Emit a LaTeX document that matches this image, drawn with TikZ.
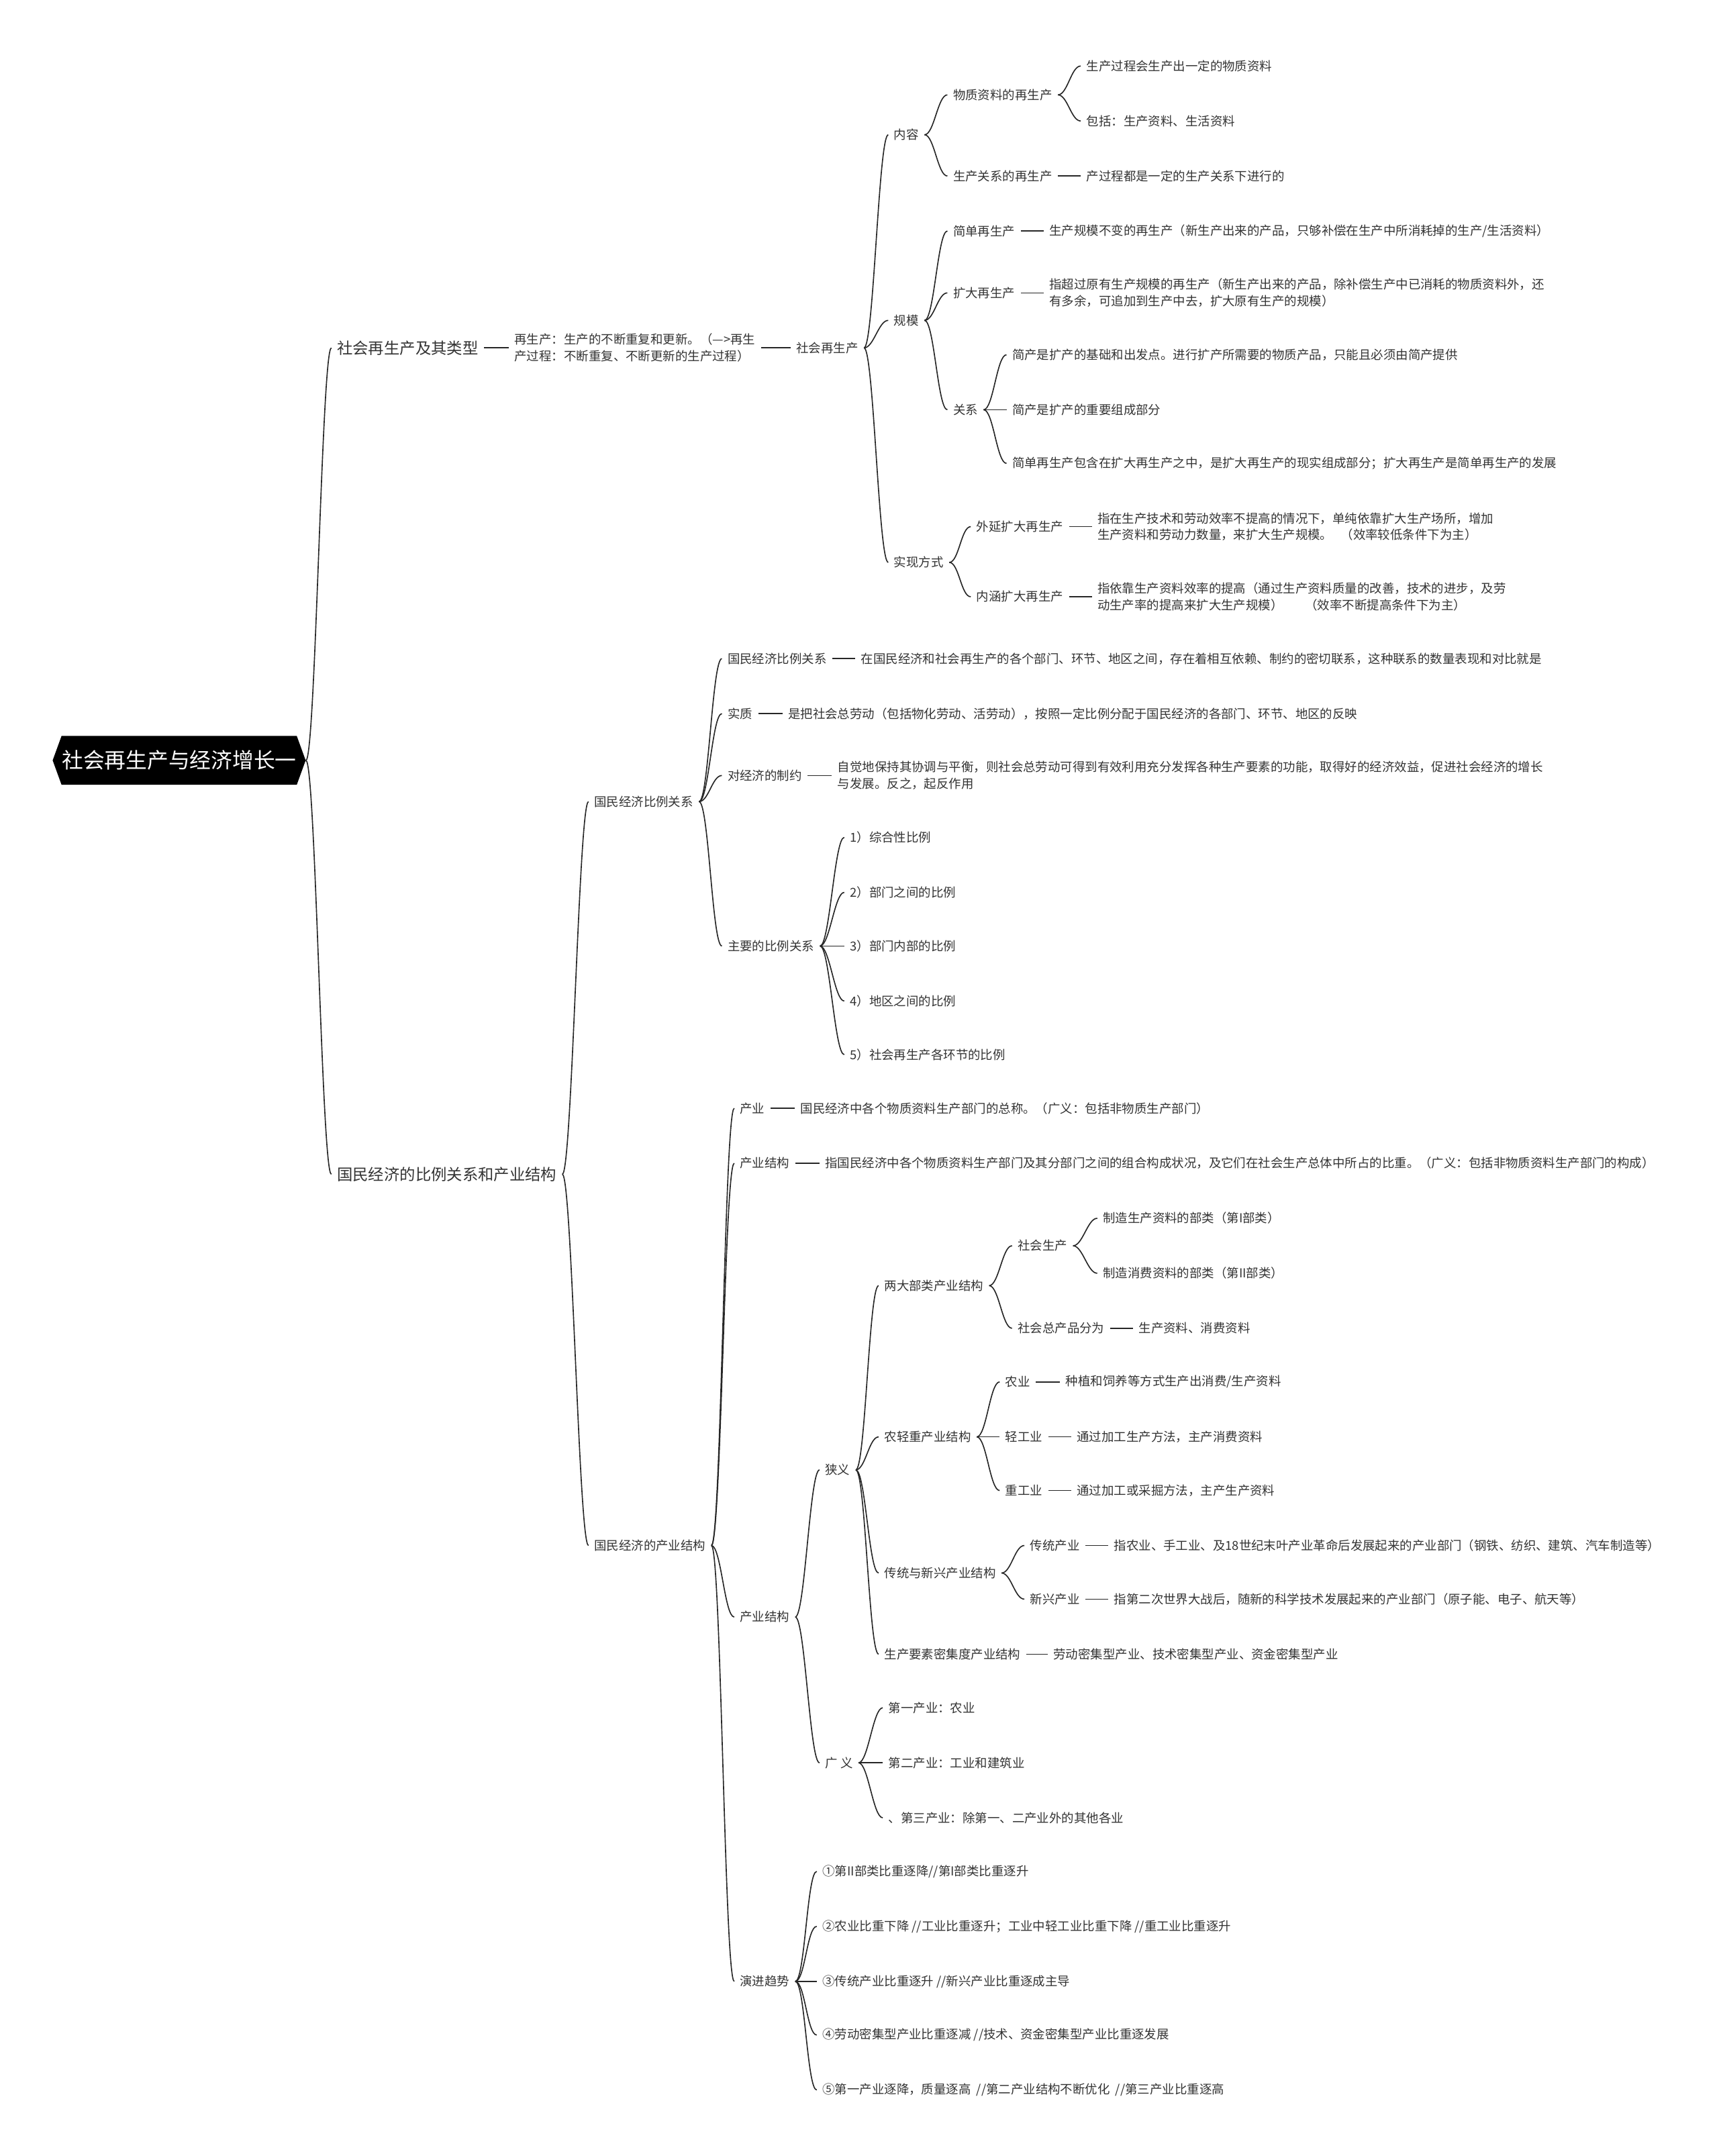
\documentclass[tikz,border=0pt]{standalone}
\usepackage{fontspec}
\setmainfont{Noto Sans CJK SC}
\usetikzlibrary{shapes.symbols}

\begin{document}
\begin{tikzpicture}[x=1pt,y=-1pt,
    txt/.style={anchor=west,inner xsep=4pt,inner ysep=2pt,text=black!80,
      font=\fontsize{9}{12}\selectfont,align=left},
    main/.style={txt,font=\fontsize{11.4}{14}\selectfont},
    conn/.style={draw=black!85,line width=0.8pt}]
\path[use as bounding box] (0,0) rectangle (1250,1568);

% root
\node[signal,signal to=west and east,signal pointer angle=140,fill=black,
  text=white,font=\fontsize{15.5}{18}\selectfont,minimum width=184pt,
  minimum height=35.5pt,inner xsep=0pt] (root) at (130.3,553) {社会再生产与经济增长一};

% first branch
\node[main] (s1) at (241,253) {社会再生产及其类型};
\node[txt] (s1d) at (370,253) {再生产：生产的不断重复和更新。（—>再生\\产过程：不断重复、不断更新的生产过程）};
\node[txt] (srp) at (575,253) {社会再生产};
\node[txt] (nr) at (646,98) {内容};
\node[txt] (wz) at (689,69) {物质资料的再生产};
\node[txt] (wz1) at (786,48) {生产过程会生产出一定的物质资料};
\node[txt] (wz2) at (786,88) {包括：生产资料、生活资料};
\node[txt] (gx) at (689,128) {生产关系的再生产};
\node[txt] (gxd) at (786,128) {产过程都是一定的生产关系下进行的};
\node[txt] (gm) at (646,233) {规模};
\node[txt] (jd) at (689,168) {简单再生产};
\node[txt] (jdd) at (759,168) {生产规模不变的再生产（新生产出来的产品，只够补偿在生产中所消耗掉的生产/生活资料）};
\node[txt] (kd) at (689,213) {扩大再生产};
\node[txt] (kdd) at (759,213) {指超过原有生产规模的再生产（新生产出来的产品，除补偿生产中已消耗的物质资料外，还\\有多余，可追加到生产中去，扩大原有生产的规模）};
\node[txt] (gxi) at (689,298) {关系};
\node[txt] (gx1) at (732,258) {简产是扩产的基础和出发点。进行扩产所需要的物质产品，只能且必须由简产提供};
\node[txt] (gx2) at (732,298) {简产是扩产的重要组成部分};
\node[txt] (gx3) at (732,337) {简单再生产包含在扩大再生产之中，是扩大再生产的现实组成部分；扩大再生产是简单再生产的发展};
\node[txt] (sxfs) at (646,409) {实现方式};
\node[txt] (wy) at (706,383) {外延扩大再生产};
\node[txt] (wyd) at (794,383) {指在生产技术和劳动效率不提高的情况下，单纯依靠扩大生产场所，增加\\生产资料和劳动力数量，来扩大生产规模。\hspace{6pt}（效率较低条件下为主）};
\node[txt] (nh) at (706,434) {内涵扩大再生产};
\node[txt] (nhd) at (794,434) {指依靠生产资料效率的提高（通过生产资料质量的改善，技术的进步，及劳\\动生产率的提高来扩大生产规模）\hspace{16pt}（效率不断提高条件下为主）};

% second branch
\node[main] (s2) at (241,854) {国民经济的比例关系和产业结构};
\node[txt] (bl) at (428,583) {国民经济比例关系};
\node[txt] (bl1) at (525,479) {国民经济比例关系};
\node[txt] (bl1d) at (622,479) {在国民经济和社会再生产的各个部门、环节、地区之间，存在着相互依赖、制约的密切联系，这种联系的数量表现和对比就是};
\node[txt] (sz) at (525,519) {实质};
\node[txt] (szd) at (569,519) {是把社会总劳动（包括物化劳动、活劳动），按照一定比例分配于国民经济的各部门、环节、地区的反映};
\node[txt] (zy) at (525,564) {对经济的制约};
\node[txt] (zyd) at (605,564) {自觉地保持其协调与平衡，则社会总劳动可得到有效利用充分发挥各种生产要素的功能，取得好的经济效益，促进社会经济的增长\\与发展。反之，起反作用};
\node[txt] (zybl) at (525,688) {主要的比例关系};
\node[txt] (p1) at (614,609) {1）综合性比例};
\node[txt] (p2) at (614,649) {2）部门之间的比例};
\node[txt] (p3) at (614,688) {3）部门内部的比例};
\node[txt] (p4) at (614,728) {4）地区之间的比例};
\node[txt] (p5) at (614,767) {5）社会再生产各环节的比例};

\node[txt] (cyjg) at (428,1124) {国民经济的产业结构};
\node[txt] (cy) at (534,806) {产业};
\node[txt] (cyd) at (578,806) {国民经济中各个物质资料生产部门的总称。（广义：包括非物质生产部门）};
\node[txt] (cyjg1) at (534,846) {产业结构};
\node[txt] (cyjg1d) at (596,846) {指国民经济中各个物质资料生产部门及其分部门之间的组合构成状况，及它们在社会生产总体中所占的比重。（广义：包括非物质资料生产部门的构成）};
\node[txt] (cyjg2) at (534,1176) {产业结构};
\node[txt] (xy) at (596,1069) {狭义};
\node[txt] (lb) at (639,935) {两大部类产业结构};
\node[txt] (shsc) at (736,906) {社会生产};
\node[txt] (sc1) at (798,886) {制造生产资料的部类（第I部类）};
\node[txt] (sc2) at (798,926) {制造消费资料的部类（第II部类）};
\node[txt] (zcp) at (736,966) {社会总产品分为};
\node[txt] (zcpd) at (824,966) {生产资料、消费资料};
\node[txt] (nqz) at (639,1045) {农轻重产业结构};
\node[txt] (ny) at (727,1005) {农业};
\node[txt] (nyd) at (771,1005) {种植和饲养等方式生产出消费/生产资料};
\node[txt] (qg) at (727,1045) {轻工业};
\node[txt] (qgd) at (779,1045) {通过加工生产方法，主产消费资料};
\node[txt] (zg) at (727,1084) {重工业};
\node[txt] (zgd) at (779,1084) {通过加工或采掘方法，主产生产资料};
\node[txt] (ctx) at (639,1144) {传统与新兴产业结构};
\node[txt] (ct) at (745,1124) {传统产业};
\node[txt] (ctd) at (806,1124) {指农业、手工业、及18世纪末叶产业革命后发展起来的产业部门（钢铁、纺织、建筑、汽车制造等）};
\node[txt] (xx) at (745,1163) {新兴产业};
\node[txt] (xxd) at (806,1163) {指第二次世界大战后，随新的科学技术发展起来的产业部门（原子能、电子、航天等）};
\node[txt] (ys) at (639,1203) {生产要素密集度产业结构};
\node[txt] (ysd) at (762,1203) {劳动密集型产业、技术密集型产业、资金密集型产业};
\node[txt] (gy) at (596,1282) {广 义};
\node[txt] (d1) at (642,1242) {第一产业：农业};
\node[txt] (d2) at (642,1282) {第二产业：工业和建筑业};
\node[txt] (d3) at (642,1322) {、第三产业：除第一、二产业外的其他各业};
\node[txt] (yj) at (534,1441) {演进趋势};
\node[txt] (t1) at (594,1361) {①第II部类比重逐降//第I部类比重逐升};
\node[txt] (t2) at (594,1401) {②农业比重下降 //工业比重逐升；工业中轻工业比重下降 //重工业比重逐升};
\node[txt] (t3) at (594,1441) {③传统产业比重逐升 //新兴产业比重逐成主导};
\node[txt] (t4) at (594,1480) {④劳动密集型产业比重逐减 //技术、资金密集型产业比重逐发展};
\node[txt] (t5) at (594,1520) {⑤第一产业逐降，质量逐高\ \ //第二产业结构不断优化\ \ //第三产业比重逐高};

% connectors
\foreach \a/\b in {root/s1,root/s2,s1/s1d,s1d/srp,srp/nr,srp/gm,srp/sxfs,
    nr/wz,nr/gx,wz/wz1,wz/wz2,gx/gxd,gm/jd,gm/kd,gm/gxi,jd/jdd,kd/kdd,
    gxi/gx1,gxi/gx2,gxi/gx3,sxfs/wy,sxfs/nh,wy/wyd,nh/nhd,
    s2/bl,s2/cyjg,bl/bl1,bl/sz,bl/zy,bl/zybl,bl1/bl1d,sz/szd,zy/zyd,
    zybl/p1,zybl/p2,zybl/p3,zybl/p4,zybl/p5,
    cyjg/cy,cyjg/cyjg1,cyjg/cyjg2,cyjg/yj,cy/cyd,cyjg1/cyjg1d,
    cyjg2/xy,cyjg2/gy,xy/lb,xy/nqz,xy/ctx,xy/ys,
    lb/shsc,lb/zcp,shsc/sc1,shsc/sc2,zcp/zcpd,
    nqz/ny,nqz/qg,nqz/zg,ny/nyd,qg/qgd,zg/zgd,
    ctx/ct,ctx/xx,ct/ctd,xx/xxd,ys/ysd,
    gy/d1,gy/d2,gy/d3,yj/t1,yj/t2,yj/t3,yj/t4,yj/t5}
  \draw[conn] (\a.east) .. controls +(7,0) and +(-7,0) .. (\b.west);
\end{tikzpicture}
\end{document}
